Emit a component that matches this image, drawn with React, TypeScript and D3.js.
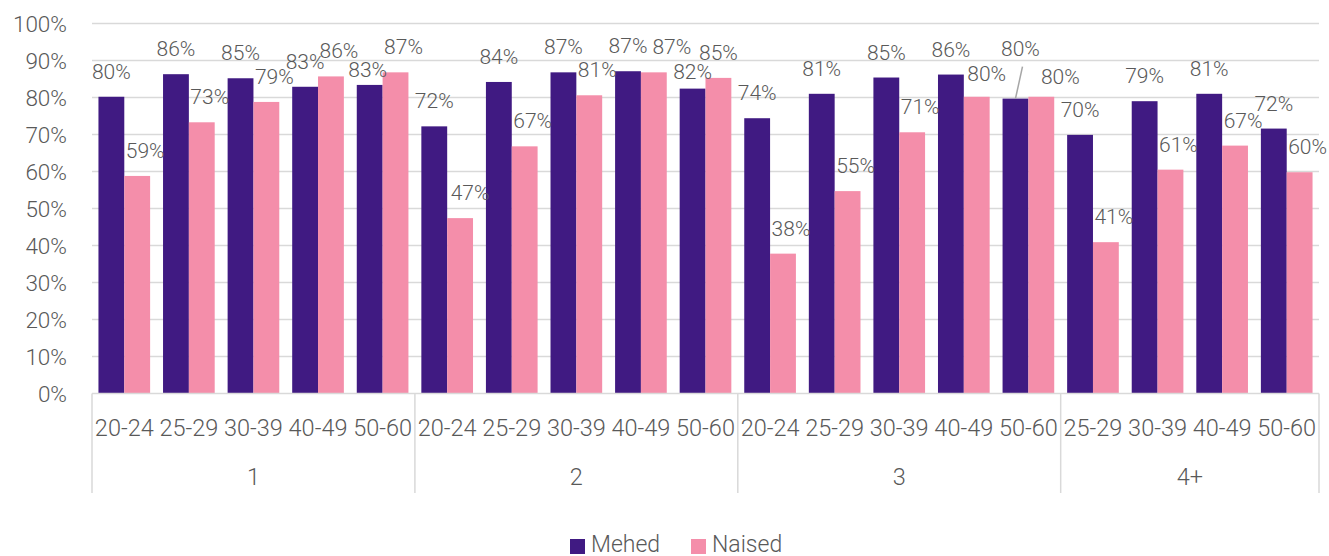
import { useMemo } from 'react';
import * as d3 from 'd3';

const width = 1329;
const height = 556;

const ageLabels = [
  '20-24', '25-29', '30-39', '40-49', '50-60',
  '20-24', '25-29', '30-39', '40-49', '50-60',
  '20-24', '25-29', '30-39', '40-49', '50-60',
  '25-29', '30-39', '40-49', '50-60',
];
const groupOf = [
  '1', '1', '1', '1', '1',
  '2', '2', '2', '2', '2',
  '3', '3', '3', '3', '3',
  '4+', '4+', '4+', '4+',
];
const groups = ['1', '2', '3', '4+'];
const seriesNames = ['Mehed', 'Naised'];
const mehed = [80.2, 86.3, 85.2, 82.9, 83.4, 72.2, 84.2, 86.8, 87.1, 82.4, 74.4, 81.0, 85.4, 86.2, 79.7, 69.9, 79.0, 81.0, 71.6];
const naised = [58.8, 73.3, 78.8, 85.7, 86.8, 47.4, 66.8, 80.6, 86.8, 85.3, 37.8, 54.7, 70.6, 80.2, 80.2, 40.9, 60.5, 67.0, 59.8];
const yTicks = [0, 10, 20, 30, 40, 50, 60, 70, 80, 90, 100];

const colors = ['#401a82', '#f48eaa'];
const textColor = '#595959';
const gridColor = '#d9d9d9';
const font = 'Roboto, "Noto Sans", sans-serif';

// hand moved data labels (dx, dy from the default spot)
const mehedNudge: Record<number, [number, number]> = { 4: [-2, 10], 9: [0, 8], 14: [5, -25] };
const naisedNudge: Record<number, [number, number]> = { 5: [10, 0], 8: [18, 0], 9: [0, 0], 13: [10, 2], 14: [19, 5] };

export default function App() {
  const idx = d3.range(ageLabels.length);
  const x0 = useMemo(() => d3.scaleBand<number>().domain(idx).range([92, 1319]).padding(0), []);
  const x1 = useMemo(
    () => d3.scaleBand<string>().domain(seriesNames).range([0, x0.bandwidth()]).paddingInner(0).paddingOuter(0.25),
    [x0]
  );
  const y = d3.scaleLinear().domain([0, 100]).range([393.5, 23.5]);

  const groupBounds = groups.map((g) => {
    const members = idx.filter((i) => groupOf[i] === g);
    const start = x0(members[0])!;
    const end = x0(members[members.length - 1])! + x0.bandwidth();
    return { g, start, end };
  });
  const separators = [groupBounds[0].start, ...groupBounds.map((b) => b.end)];

  const series = [mehed, naised];
  const nudges = [mehedNudge, naisedNudge];

  return (
    <svg width={width} height={height} style={{ position: 'absolute', left: 0, top: 0 }} fontFamily={font}>
      <rect width={width} height={height} fill="#fff" />
      {yTicks.map((t) => (
        <g key={t}>
          {t > 0 && <line x1={92} x2={1319} y1={y(t)} y2={y(t)} stroke={gridColor} strokeWidth={1.5} />}
          <text x={67} y={y(t)} dy="0.36em" textAnchor="end" fontSize={22.5} fontWeight={300} fill={textColor}>
            {t}%
          </text>
        </g>
      ))}

      {series.map((vals, s) =>
        vals.map((v, i) => (
          <rect
            key={`${s}-${i}`}
            x={x0(i)! + x1(seriesNames[s])!}
            y={y(v)}
            width={x1.bandwidth()}
            height={y(0) - y(v)}
            fill={colors[s]}
          />
        ))
      )}

      <line x1={92} x2={1319} y1={y(0)} y2={y(0)} stroke={gridColor} strokeWidth={1.5} />
      {separators.map((sx, i) => (
        <line key={i} x1={sx} x2={sx} y1={y(0)} y2={493} stroke={gridColor} strokeWidth={1.5} />
      ))}

      {series.map((vals, s) =>
        vals.map((v, i) => {
          const cx = x0(i)! + x1(seriesNames[s])! + x1.bandwidth() / 2;
          const nudge = nudges[s][i] ?? [s === 1 ? 8 : 0, 0];
          const lx = cx + nudge[0];
          const ly = y(v) - 18 + nudge[1];
          const leader = s === 0 && i === 14;
          return (
            <g key={`l${s}-${i}`}>
              {leader && <line x1={lx + 2} y1={ly + 11} x2={cx} y2={y(v)} stroke="#a6a6a6" strokeWidth={1.5} />}
              <text x={lx} y={ly} textAnchor="middle" fontSize={21} fontWeight={300} fill={textColor}>
                {Math.round(v)}%
              </text>
            </g>
          );
        })
      )}

      {idx.map((i) => (
        <text key={i} x={x0(i)! + x0.bandwidth() / 2} y={435.5} textAnchor="middle" fontSize={23.5} fontWeight={300} fill={textColor}>
          {ageLabels[i]}
        </text>
      ))}
      {groupBounds.map((b) => (
        <text key={b.g} x={(b.start + b.end) / 2} y={485} textAnchor="middle" fontSize={23.5} fontWeight={300} fill={textColor}>
          {b.g}
        </text>
      ))}

      {seriesNames.map((name, s) => {
        const lx = s === 0 ? 570 : 691;
        return (
          <g key={name}>
            <rect x={lx} y={539} width={15} height={15} fill={colors[s]} />
            <text x={lx + 21} y={552} fontSize={23} fontWeight={300} fill={textColor}>
              {name}
            </text>
          </g>
        );
      })}
    </svg>
  );
}
